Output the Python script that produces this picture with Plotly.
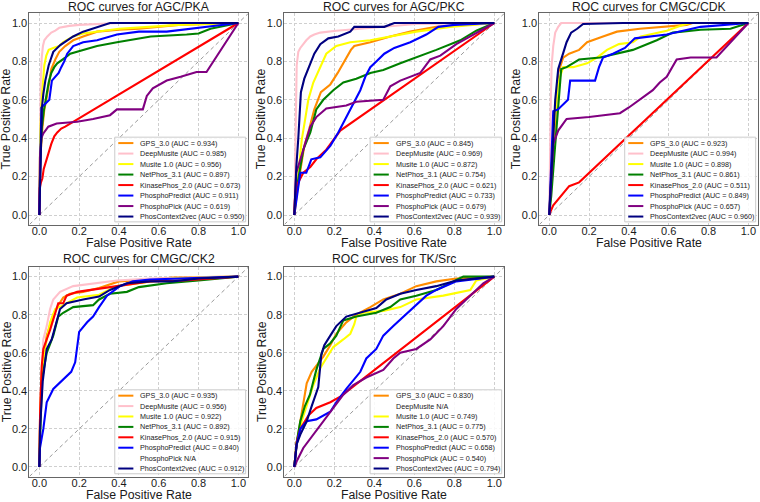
import plotly.graph_objects as go

# ---------------- data ----------------
METHODS = ["GPS_3.0", "DeepMusite", "Musite 1.0", "NetPhos_3.1", "KinasePhos_2.0",
           "PhosphoPredict", "PhosphoPick", "PhosContext2vec"]
COLORS = ["#FF8C00", "#FFC0CB", "#FFFF00", "#008000", "#FF0000", "#0000FF", "#800080", "#000080"]
PANEL_TITLES = ["ROC curves for AGC/PKA", "ROC curves for AGC/PKC", "ROC curves for CMGC/CDK",
                "ROC curves for CMGC/CK2", "ROC curves for TK/Src"]
X_TITLE = "False Positive Rate"
Y_TITLE = "True Positive Rate"
TICKS = [0.0, 0.2, 0.4, 0.6, 0.8, 1.0]
TICK_LABELS = ["0.0", "0.2", "0.4", "0.6", "0.8", "1.0"]
DIAG = [-0.05, 1.05]

PKA_AUC = [0.934, 0.985, 0.956, 0.897, 0.673, 0.911, 0.619, 0.950]
PKC_AUC = [0.845, 0.969, 0.872, 0.754, 0.621, 0.733, 0.679, 0.939]
CDK_AUC = [0.923, 0.994, 0.898, 0.861, 0.511, 0.849, 0.657, 0.960]
CK2_AUC = [0.935, 0.956, 0.922, 0.892, 0.915, 0.840, None, 0.912]
SRC_AUC = [0.830, None, 0.749, 0.775, 0.570, 0.658, 0.540, 0.794]

# --- AGC/PKA ---
PKA_GPS_FPR = [0, 0.005, 0.015, 0.025, 0.035, 0.045, 0.06, 0.08, 0.1, 0.13, 0.17, 0.22, 0.29, 0.4, 0.5, 0.7, 1.0]
PKA_GPS_TPR = [0, 0.3, 0.45, 0.55, 0.6, 0.67, 0.76, 0.81, 0.85, 0.88, 0.91, 0.93, 0.955, 0.965, 0.97, 0.99, 1.0]
PKA_DEEP_FPR = [0, 0.003, 0.007, 0.012, 0.018, 0.025, 0.04, 0.06, 0.08, 0.1, 0.15, 0.2, 0.3, 0.4, 1.0]
PKA_DEEP_TPR = [0, 0.45, 0.7, 0.82, 0.88, 0.91, 0.93, 0.95, 0.96, 0.975, 0.985, 0.99, 0.995, 1.0, 1.0]
PKA_MUS_FPR = [0, 0.004, 0.01, 0.018, 0.025, 0.035, 0.047, 0.07, 0.1, 0.12, 0.17, 0.22, 0.29, 0.4, 0.55, 0.7, 1.0]
PKA_MUS_TPR = [0, 0.4, 0.58, 0.7, 0.78, 0.83, 0.86, 0.87, 0.88, 0.9, 0.93, 0.945, 0.955, 0.97, 0.98, 0.99, 1.0]
PKA_NET_FPR = [0, 0.005, 0.012, 0.022, 0.035, 0.047, 0.06, 0.075, 0.09, 0.105, 0.13, 0.155, 0.19, 0.22, 0.29, 0.39, 0.5, 0.56, 0.74, 0.8, 0.86, 1.0]
PKA_NET_TPR = [0, 0.3, 0.45, 0.54, 0.62, 0.69, 0.74, 0.77, 0.79, 0.8, 0.82, 0.84, 0.85, 0.86, 0.88, 0.9, 0.92, 0.93, 0.94, 0.945, 0.97, 1.0]
PKA_KIN_FPR = [0, 0.002, 0.008, 0.015, 0.022, 0.03, 0.04, 0.05, 0.06, 0.075, 0.09, 0.11, 0.13, 1.0]
PKA_KIN_TPR = [0, 0.14, 0.17, 0.19, 0.24, 0.27, 0.3, 0.34, 0.37, 0.41, 0.43, 0.45, 0.46, 1.0]
PKA_PRED_FPR = [0, 0.005, 0.01, 0.03, 0.05, 0.063, 0.08, 0.097, 0.11, 0.125, 0.14, 0.17, 0.22, 0.29, 0.39, 0.5, 0.64, 0.77, 1.0]
PKA_PRED_TPR = [0, 0.35, 0.56, 0.58, 0.6, 0.7, 0.72, 0.74, 0.77, 0.8, 0.84, 0.88, 0.9, 0.91, 0.94, 0.955, 0.955, 0.97, 1.0]
PKA_PICK_FPR = [0, 0.003, 0.01, 0.02, 0.045, 0.087, 0.19, 0.27, 0.355, 0.39, 0.52, 0.54, 0.57, 0.64, 0.71, 0.79, 0.84, 1.0]
PKA_PICK_TPR = [0, 0.3, 0.4, 0.425, 0.46, 0.477, 0.486, 0.5, 0.52, 0.55, 0.55, 0.62, 0.66, 0.7, 0.72, 0.745, 0.745, 1.0]
PKA_CTX_FPR = [0, 0.005, 0.013, 0.02, 0.03, 0.047, 0.07, 0.105, 0.17, 0.22, 0.29, 0.355, 1.0]
PKA_CTX_TPR = [0, 0.3, 0.56, 0.63, 0.7, 0.78, 0.85, 0.885, 0.93, 0.955, 0.98, 1.0, 1.0]

# --- AGC/PKC ---
PKC_GPS_FPR = [0, 0.01, 0.02, 0.03, 0.05, 0.075, 0.1, 0.133, 0.18, 0.217, 0.25, 0.283, 0.3, 0.38, 0.48, 0.58, 0.71, 1.0]
PKC_GPS_TPR = [0, 0.1, 0.17, 0.23, 0.36, 0.45, 0.55, 0.64, 0.68, 0.74, 0.8, 0.86, 0.88, 0.9, 0.93, 0.955, 0.98, 1.0]
PKC_DEEP_FPR = [0, 0.004, 0.008, 0.012, 0.02, 0.03, 0.045, 0.06, 0.08, 0.1, 0.13, 0.21, 0.33, 0.45, 0.61, 1.0]
PKC_DEEP_TPR = [0, 0.3, 0.6, 0.78, 0.85, 0.87, 0.89, 0.91, 0.93, 0.94, 0.95, 0.96, 0.97, 0.98, 0.995, 1.0]
PKC_MUS_FPR = [0, 0.01, 0.02, 0.03, 0.037, 0.053, 0.07, 0.095, 0.13, 0.16, 0.21, 0.28, 0.38, 0.48, 0.61, 0.78, 1.0]
PKC_MUS_TPR = [0, 0.1, 0.2, 0.3, 0.39, 0.49, 0.6, 0.69, 0.77, 0.84, 0.88, 0.9, 0.91, 0.93, 0.955, 0.98, 1.0]
PKC_NET_FPR = [0, 0.01, 0.03, 0.045, 0.08, 0.11, 0.145, 0.195, 0.245, 0.31, 0.38, 0.445, 0.53, 0.61, 0.71, 0.83, 0.91, 1.0]
PKC_NET_TPR = [0, 0.12, 0.25, 0.34, 0.43, 0.55, 0.6, 0.65, 0.69, 0.71, 0.74, 0.755, 0.79, 0.82, 0.86, 0.91, 0.96, 1.0]
PKC_KIN_FPR = [0, 0.003, 0.01, 0.045, 0.08, 0.11, 0.16, 0.21, 0.23, 1.0]
PKC_KIN_TPR = [0, 0.08, 0.15, 0.22, 0.25, 0.29, 0.34, 0.41, 0.44, 1.0]
PKC_PRED_FPR = [0, 0.005, 0.01, 0.03, 0.06, 0.085, 0.13, 0.18, 0.22, 0.26, 0.295, 0.33, 0.355, 0.38, 0.41, 0.45, 0.5, 0.58, 0.66, 0.72, 0.8, 1.0]
PKC_PRED_TPR = [0, 0.04, 0.08, 0.22, 0.22, 0.29, 0.3, 0.36, 0.43, 0.51, 0.58, 0.65, 0.72, 0.77, 0.8, 0.84, 0.87, 0.9, 0.94, 0.98, 0.99, 1.0]
PKC_PICK_FPR = [0, 0.005, 0.01, 0.045, 0.08, 0.11, 0.16, 0.26, 0.31, 0.445, 0.48, 0.53, 0.63, 0.68, 0.73, 0.81, 0.945, 1.0]
PKC_PICK_TPR = [0, 0.15, 0.22, 0.34, 0.46, 0.51, 0.555, 0.57, 0.59, 0.6, 0.67, 0.7, 0.74, 0.81, 0.83, 0.89, 0.97, 1.0]
PKC_CTX_FPR = [0, 0.01, 0.02, 0.025, 0.033, 0.05, 0.075, 0.1, 0.13, 0.17, 0.22, 0.28, 0.3, 0.45, 0.5, 1.0]
PKC_CTX_TPR = [0, 0.25, 0.4, 0.5, 0.64, 0.71, 0.78, 0.84, 0.89, 0.92, 0.93, 0.955, 0.98, 0.98, 1.0, 1.0]

# --- CMGC/CDK ---
CDK_GPS_FPR = [0, 0.01, 0.02, 0.03, 0.045, 0.07, 0.1, 0.15, 0.19, 0.27, 0.34, 0.455, 0.59, 0.69, 0.72, 1.0]
CDK_GPS_TPR = [0, 0.2, 0.35, 0.49, 0.74, 0.82, 0.84, 0.86, 0.9, 0.93, 0.955, 0.97, 0.98, 0.99, 1.0, 1.0]
CDK_DEEP_FPR = [0, 0.003, 0.008, 0.012, 0.02, 0.03, 0.045, 0.06, 1.0]
CDK_DEEP_TPR = [0, 0.3, 0.6, 0.78, 0.88, 0.95, 0.98, 1.0, 1.0]
CDK_MUS_FPR = [0, 0.01, 0.02, 0.045, 0.07, 0.12, 0.19, 0.24, 0.29, 0.35, 0.42, 0.46, 0.59, 0.67, 0.71, 1.0]
CDK_MUS_TPR = [0, 0.2, 0.42, 0.69, 0.77, 0.77, 0.79, 0.82, 0.86, 0.89, 0.9, 0.93, 0.96, 0.99, 1.0, 1.0]
CDK_NET_FPR = [0, 0.01, 0.025, 0.037, 0.045, 0.06, 0.087, 0.15, 0.255, 0.34, 0.42, 0.54, 0.62, 0.76, 0.91, 1.0]
CDK_NET_TPR = [0, 0.1, 0.3, 0.46, 0.6, 0.76, 0.77, 0.81, 0.82, 0.84, 0.86, 0.91, 0.95, 0.965, 0.97, 1.0]
CDK_KIN_FPR = [0, 0.003, 0.02, 0.045, 0.07, 0.1, 0.15, 1.0]
CDK_KIN_TPR = [0, 0.01, 0.05, 0.08, 0.11, 0.15, 0.17, 1.0]
CDK_PRED_FPR = [0, 0.01, 0.02, 0.044, 0.094, 0.105, 0.23, 0.25, 0.27, 0.32, 0.38, 0.43, 0.59, 0.76, 1.0]
CDK_PRED_TPR = [0, 0.3, 0.54, 0.55, 0.6, 0.7, 0.7, 0.77, 0.82, 0.84, 0.87, 0.92, 0.94, 0.98, 1.0]
CDK_PICK_FPR = [0, 0.005, 0.02, 0.045, 0.087, 0.2, 0.29, 0.355, 0.4, 0.455, 0.52, 0.555, 0.59, 0.64, 0.71, 0.84, 1.0]
CDK_PICK_TPR = [0, 0.1, 0.37, 0.44, 0.5, 0.51, 0.52, 0.53, 0.56, 0.6, 0.65, 0.69, 0.72, 0.81, 0.82, 0.82, 1.0]
CDK_CTX_FPR = [0, 0.005, 0.012, 0.02, 0.03, 0.045, 0.06, 0.087, 0.11, 0.14, 0.17, 0.37, 1.0]
CDK_CTX_TPR = [0, 0.1, 0.3, 0.42, 0.6, 0.76, 0.81, 0.9, 0.95, 0.97, 0.995, 1.0, 1.0]

# --- CMGC/CK2 ---
CK2_GPS_FPR = [0, 0.004, 0.012, 0.025, 0.037, 0.055, 0.07, 0.095, 0.12, 0.154, 0.22, 0.3, 0.4, 0.556, 0.67, 1.0]
CK2_GPS_TPR = [0, 0.3, 0.5, 0.6, 0.69, 0.75, 0.8, 0.85, 0.89, 0.91, 0.92, 0.94, 0.975, 0.985, 0.995, 1.0]
CK2_DEEP_FPR = [0, 0.004, 0.012, 0.02, 0.037, 0.054, 0.07, 0.104, 0.17, 0.27, 0.39, 0.556, 1.0]
CK2_DEEP_TPR = [0, 0.3, 0.5, 0.67, 0.74, 0.83, 0.88, 0.92, 0.95, 0.965, 0.98, 0.99, 1.0]
CK2_MUS_FPR = [0, 0.004, 0.012, 0.025, 0.037, 0.054, 0.08, 0.12, 0.19, 0.3, 0.39, 0.5, 0.67, 1.0]
CK2_MUS_TPR = [0, 0.25, 0.48, 0.6, 0.67, 0.76, 0.83, 0.85, 0.89, 0.905, 0.95, 0.965, 0.99, 1.0]
CK2_NET_FPR = [0, 0.004, 0.012, 0.025, 0.037, 0.07, 0.095, 0.12, 0.17, 0.27, 0.3, 0.355, 0.44, 0.5, 0.64, 0.8, 1.0]
CK2_NET_TPR = [0, 0.2, 0.45, 0.53, 0.6, 0.69, 0.79, 0.81, 0.84, 0.85, 0.88, 0.91, 0.92, 0.945, 0.965, 0.98, 1.0]
CK2_KIN_FPR = [0, 0.004, 0.012, 0.02, 0.054, 0.08, 0.095, 0.12, 0.137, 0.19, 0.3, 0.39, 0.556, 0.72, 1.0]
CK2_KIN_TPR = [0, 0.3, 0.53, 0.62, 0.72, 0.81, 0.86, 0.86, 0.9, 0.92, 0.935, 0.95, 0.975, 0.98, 1.0]
CK2_PRED_FPR = [0, 0.003, 0.02, 0.037, 0.07, 0.104, 0.137, 0.16, 0.18, 0.19, 0.2, 0.24, 0.27, 0.3, 0.34, 0.405, 0.47, 0.556, 1.0]
CK2_PRED_TPR = [0, 0.1, 0.2, 0.34, 0.41, 0.445, 0.48, 0.5, 0.55, 0.64, 0.71, 0.76, 0.79, 0.84, 0.9, 0.95, 0.975, 0.985, 1.0]
CK2_CTX_FPR = [0, 0.003, 0.017, 0.037, 0.062, 0.087, 0.104, 0.137, 0.22, 0.3, 0.355, 0.44, 0.556, 0.67, 0.8, 1.0]
CK2_CTX_TPR = [0, 0.19, 0.45, 0.62, 0.67, 0.76, 0.83, 0.86, 0.88, 0.895, 0.93, 0.965, 0.975, 0.975, 0.99, 1.0]

# --- TK/Src ---
SRC_GPS_FPR = [0, 0.012, 0.03, 0.045, 0.062, 0.087, 0.11, 0.145, 0.18, 0.21, 0.26, 0.31, 0.38, 0.445, 0.53, 0.61, 0.71, 0.81, 1.0]
SRC_GPS_TPR = [0, 0.12, 0.24, 0.34, 0.44, 0.5, 0.53, 0.58, 0.64, 0.7, 0.76, 0.8, 0.84, 0.88, 0.91, 0.95, 0.975, 0.99, 1.0]
SRC_MUS_FPR = [0, 0.012, 0.037, 0.062, 0.095, 0.13, 0.16, 0.195, 0.245, 0.28, 0.3, 0.31, 0.345, 0.445, 0.53, 0.61, 0.745, 0.88, 0.91, 1.0]
SRC_MUS_TPR = [0, 0.13, 0.24, 0.32, 0.43, 0.52, 0.57, 0.63, 0.67, 0.7, 0.75, 0.79, 0.81, 0.82, 0.84, 0.88, 0.9, 0.93, 0.98, 1.0]
SRC_NET_FPR = [0, 0.012, 0.03, 0.053, 0.078, 0.11, 0.145, 0.18, 0.21, 0.245, 0.31, 0.41, 0.48, 0.53, 0.61, 0.71, 0.845, 1.0]
SRC_NET_TPR = [0, 0.13, 0.24, 0.32, 0.38, 0.51, 0.62, 0.65, 0.69, 0.77, 0.79, 0.81, 0.84, 0.88, 0.9, 0.93, 1.0, 1.0]
SRC_KIN_FPR = [0, 0.012, 0.03, 0.07, 0.11, 0.18, 0.23, 1.0]
SRC_KIN_TPR = [0, 0.13, 0.2, 0.27, 0.31, 0.34, 0.37, 1.0]
SRC_PRED_FPR = [0, 0.012, 0.03, 0.062, 0.11, 0.18, 0.21, 0.26, 0.33, 0.36, 0.41, 0.445, 0.495, 0.545, 0.595, 0.66, 0.71, 0.81, 1.0]
SRC_PRED_TPR = [0, 0.12, 0.2, 0.24, 0.25, 0.29, 0.34, 0.41, 0.5, 0.57, 0.62, 0.69, 0.74, 0.79, 0.84, 0.9, 0.93, 0.975, 1.0]
SRC_PICK_FPR = [0, 0.012, 0.045, 0.095, 0.145, 0.195, 0.245, 0.295, 0.36, 0.445, 0.495, 0.53, 0.61, 0.68, 0.745, 0.81, 0.88, 0.945, 1.0]
SRC_PICK_TPR = [0, 0.03, 0.1, 0.17, 0.24, 0.31, 0.38, 0.43, 0.47, 0.51, 0.57, 0.6, 0.62, 0.67, 0.74, 0.83, 0.9, 0.965, 1.0]
SRC_CTX_FPR = [0, 0.012, 0.03, 0.062, 0.087, 0.12, 0.135, 0.15, 0.18, 0.21, 0.26, 0.33, 0.41, 0.46, 0.53, 0.61, 0.71, 0.81, 1.0]
SRC_CTX_TPR = [0, 0.12, 0.17, 0.24, 0.32, 0.42, 0.59, 0.64, 0.69, 0.74, 0.79, 0.81, 0.835, 0.88, 0.91, 0.93, 0.95, 0.98, 1.0]

# ---------------- assembly ----------------
PANELS = [
    (PKA_AUC, [(PKA_GPS_FPR, PKA_GPS_TPR), (PKA_DEEP_FPR, PKA_DEEP_TPR), (PKA_MUS_FPR, PKA_MUS_TPR),
               (PKA_NET_FPR, PKA_NET_TPR), (PKA_KIN_FPR, PKA_KIN_TPR), (PKA_PRED_FPR, PKA_PRED_TPR),
               (PKA_PICK_FPR, PKA_PICK_TPR), (PKA_CTX_FPR, PKA_CTX_TPR)]),
    (PKC_AUC, [(PKC_GPS_FPR, PKC_GPS_TPR), (PKC_DEEP_FPR, PKC_DEEP_TPR), (PKC_MUS_FPR, PKC_MUS_TPR),
               (PKC_NET_FPR, PKC_NET_TPR), (PKC_KIN_FPR, PKC_KIN_TPR), (PKC_PRED_FPR, PKC_PRED_TPR),
               (PKC_PICK_FPR, PKC_PICK_TPR), (PKC_CTX_FPR, PKC_CTX_TPR)]),
    (CDK_AUC, [(CDK_GPS_FPR, CDK_GPS_TPR), (CDK_DEEP_FPR, CDK_DEEP_TPR), (CDK_MUS_FPR, CDK_MUS_TPR),
               (CDK_NET_FPR, CDK_NET_TPR), (CDK_KIN_FPR, CDK_KIN_TPR), (CDK_PRED_FPR, CDK_PRED_TPR),
               (CDK_PICK_FPR, CDK_PICK_TPR), (CDK_CTX_FPR, CDK_CTX_TPR)]),
    (CK2_AUC, [(CK2_GPS_FPR, CK2_GPS_TPR), (CK2_DEEP_FPR, CK2_DEEP_TPR), (CK2_MUS_FPR, CK2_MUS_TPR),
               (CK2_NET_FPR, CK2_NET_TPR), (CK2_KIN_FPR, CK2_KIN_TPR), (CK2_PRED_FPR, CK2_PRED_TPR),
               None, (CK2_CTX_FPR, CK2_CTX_TPR)]),
    (SRC_AUC, [(SRC_GPS_FPR, SRC_GPS_TPR), None, (SRC_MUS_FPR, SRC_MUS_TPR),
               (SRC_NET_FPR, SRC_NET_TPR), (SRC_KIN_FPR, SRC_KIN_TPR), (SRC_PRED_FPR, SRC_PRED_TPR),
               (SRC_PICK_FPR, SRC_PICK_TPR), (SRC_CTX_FPR, SRC_CTX_TPR)]),
]

W, H = 760, 502
# plot-area pixel boxes (left, right, top, bottom)
BOXES = [(29.4, 248.3, 13.4, 224.6), (284.3, 504.3, 13.4, 224.6), (539.3, 758.3, 13.4, 224.6),
         (29.4, 248.3, 267.1, 476.5), (284.3, 504.3, 267.1, 476.5)]
TITLE_Y = [6.8, 6.8, 6.8, 259.0, 259.0]
XTITLE_Y = [243.0, 243.0, 243.0, 494.9]   # centre of x-axis title text (px from top)
XTITLE_Y.append(494.9)
YTITLE_GAP = 23.0   # px left of plot left (centre of text)

FONT = "Liberation Sans, Arial, Helvetica, sans-serif"
TXT = "#1a1a1a"
GRID = "#cfcfcf"
FRAME = "#666666"

fig = go.Figure()
annotations = []
shapes = []

for p, (aucs, curves) in enumerate(PANELS):
    sfx = "" if p == 0 else str(p + 1)
    xa, ya = "x" + sfx, "y" + sfx
    l, r, t, b = BOXES[p]
    common = dict(range=[-0.05, 1.05], tickvals=TICKS, ticktext=TICK_LABELS, showgrid=True,
                  gridcolor=GRID, griddash="3px,2px", gridwidth=0.8, zeroline=False,
                  showline=True, mirror=True, linecolor=FRAME, linewidth=1, ticks="",
                  tickfont=dict(size=11, color=TXT, family=FONT), automargin=False)
    fig.update_layout(**{
        "xaxis" + sfx: dict(domain=[l / W, r / W], anchor=ya, ticklabelstandoff=-4, **common),
        "yaxis" + sfx: dict(domain=[1 - b / H, 1 - t / H], anchor=xa, ticklabelstandoff=-1, **common),
    })
    # diagonal reference
    fig.add_trace(go.Scatter(x=DIAG, y=DIAG, mode="lines", xaxis=xa, yaxis=ya,
                             line=dict(color="#9a9a9a", width=1, dash="4px,3px"),
                             showlegend=False, hoverinfo="skip"))
    for i, c in enumerate(curves):
        if c is None:
            continue
        fig.add_trace(go.Scatter(x=c[0], y=c[1], mode="lines", xaxis=xa, yaxis=ya,
                                 name=METHODS[i], line=dict(color=COLORS[i], width=2.1),
                                 showlegend=False))
    # title and axis titles
    annotations.append(dict(text=PANEL_TITLES[p], xref="paper", yref="paper",
                            x=(l + r) / 2 / W, y=1 - TITLE_Y[p] / H, xanchor="center",
                            yanchor="middle", showarrow=False,
                            font=dict(size=12.2, color=TXT, family=FONT)))
    annotations.append(dict(text=X_TITLE, xref="paper", yref="paper",
                            x=(l + r) / 2 / W, y=1 - XTITLE_Y[p] / H, xanchor="center",
                            yanchor="middle", showarrow=False,
                            font=dict(size=12.3, color=TXT, family=FONT)))
    annotations.append(dict(text=Y_TITLE, xref="paper", yref="paper", textangle=-90,
                            x=(l - YTITLE_GAP) / W, y=1 - (t + b) / 2 / H, xanchor="center",
                            yanchor="middle", showarrow=False,
                            font=dict(size=12.3, color=TXT, family=FONT)))
    # legend box (matplotlib style lower right)
    xd, yd = xa + " domain", ya + " domain"
    shapes.append(dict(type="rect", xref=xd, yref=yd, x0=0.39, x1=0.988, y0=0.013, y1=0.414,
                       line=dict(color="#cccccc", width=1), fillcolor="rgba(255,255,255,0.85)",
                       layer="above"))
    for i, m in enumerate(METHODS):
        yy = 0.386 - i * 0.0497
        a = aucs[i]
        if curves[i] is not None:
            shapes.append(dict(type="line", xref=xd, yref=yd, x0=0.406, x1=0.475, y0=yy, y1=yy,
                               line=dict(color=COLORS[i], width=2), layer="above"))
            label = f"{m} (AUC = {a:.3f})"
        else:
            label = f"{m} N/A"
        annotations.append(dict(text=label, xref=xd, yref=yd, x=0.497, y=yy, xanchor="left",
                                yanchor="middle", showarrow=False,
                                font=dict(size=7.2, color=TXT, family=FONT)))

fig.update_layout(width=W, height=H, margin=dict(l=0, r=0, t=0, b=0),
                  paper_bgcolor="white", plot_bgcolor="white",
                  font=dict(family=FONT, color=TXT),
                  annotations=annotations, shapes=shapes, showlegend=False)

fig.write_html("out.html", config={"displayModeBar": False},
               post_script="document.body.style.margin='0px';document.body.style.padding='0px';")
